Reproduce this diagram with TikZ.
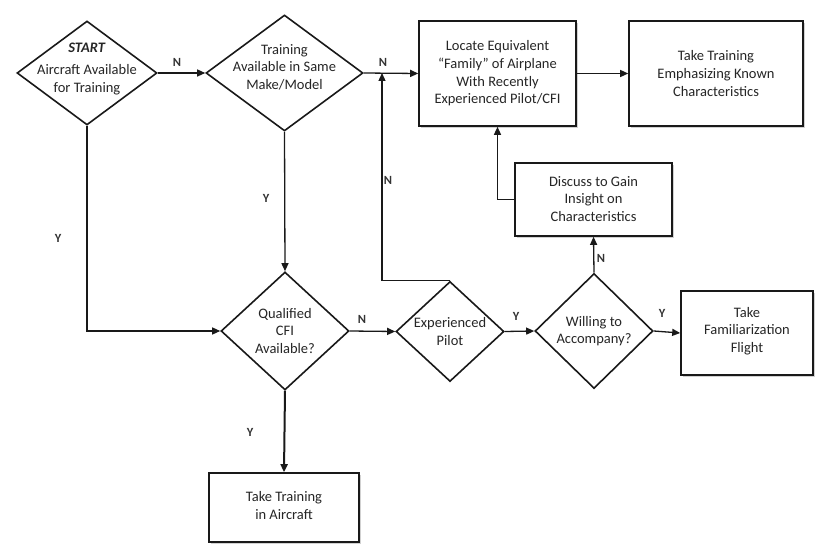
\documentclass[tikz,border=0pt]{standalone}
\usepackage{fontspec}
\setmainfont{Carlito}
\usetikzlibrary{shapes.geometric,arrows.meta,shadows}
\begin{document}
\begin{tikzpicture}[x=1bp,y=-1bp,
  every node/.style={font=\fontsize{14.5bp}{17.6bp}\selectfont, text=black!85},
  dia/.style={draw=black!90, line width=1.6bp, shape=diamond, inner sep=0pt, fill=white},
  boxx/.style={draw=black!90, line width=1.6bp, rectangle, inner sep=0pt, fill=white,
     drop shadow={shadow xshift=1.8bp, shadow yshift=-1.8bp, fill=black!30, opacity=0.6}},
  txt/.style={align=center, inner sep=0pt},
  arr/.style={draw=black!90, line width=1.3bp, -{Triangle[length=8bp,width=7bp]}},
  lbl/.style={inner sep=0pt, text=black!80, font=\fontsize{12.5bp}{15bp}\selectfont\bfseries}
]
\useasboundingbox (0,0) rectangle (832,551);

% decisions
\node[dia, minimum width=140bp, minimum height=104bp] (d1) at (87,73) {};
\node[txt] (d1t) at (87,69) {\textbf{\textit{START}}\\[4bp]Aircraft Available\\for Training};
\node[dia, minimum width=157bp, minimum height=116bp] (d2) at (284.5,73) {};
\node[txt] (d2t) at (284.5,67) {Training\\Available in Same\\Make/Model};
\node[dia, minimum width=128bp, minimum height=118bp] (qcfi) at (285,331) {};
\node[txt] (qcfit) at (285,331) {Qualified\\CFI\\Available?};
\node[dia, minimum width=108bp, minimum height=100bp] (exp) at (450,331.5) {};
\node[txt] (expt) at (450,331.5) {Experienced\\Pilot};
\node[dia, minimum width=118bp, minimum height=115bp] (will) at (594,331) {};
\node[txt] (willt) at (594,331) {Willing to\\Accompany?};

% boxes
\node[boxx, minimum width=157bp, minimum height=105bp] (locate) at (497.5,73.5) {};
\node[txt] (locatet) at (497.5,73.5) {Locate Equivalent\\``Family'' of Airplane\\With Recently\\Experienced Pilot/CFI};
\node[boxx, minimum width=174bp, minimum height=105bp] (emph) at (716,73.5) {};
\node[txt] (emplt) at (716,73.5) {Take Training\\Emphasizing Known\\Characteristics};
\node[boxx, minimum width=157bp, minimum height=73bp] (disc) at (593.5,199.5) {};
\node[txt] (disct) at (593.5,199) {Discuss to Gain\\Insight on\\Characteristics};
\node[boxx, minimum width=132bp, minimum height=84bp] (fam) at (747,333) {};
\node[txt] (famt) at (747,331) {Take\\Familiarization\\Flight};
\node[boxx, minimum width=150bp, minimum height=69bp] (tia) at (284,507.5) {};
\node[txt] (tiat) at (284,505.5) {Take Training\\in Aircraft};

\coordinate (jn) at (382,73);

% connectors
\draw[arr] (d1.east) -- (d2.west);
\draw[arr] (d2.east) -- (locate.west);
\draw[arr] (locate.east) -- (emph.west);
\draw[arr] (d1.south) |- (qcfi.west);
\draw[arr] (d2.south) -- (qcfi.north);
\draw[arr] (qcfi.east) -- (exp.west);
\draw[arr] (exp.north) -| (jn);
\draw[arr] (exp.east) -- (will.west);
\draw[arr] (will.north) -- (disc.south);
\draw[arr] (will.east) -- (fam.west);
\draw[arr] (disc.west) -| (locate.south);
\draw[arr, line width=2bp] (qcfi.south) -- (tia.north);

% labels
\node[lbl] (l1) at (177,62) {N};
\node[lbl] (l2) at (383,62) {N};
\node[lbl] (l3) at (388,180) {N};
\node[lbl] (l4) at (266,198) {Y};
\node[lbl] (l5) at (58,238) {Y};
\node[lbl] (l6) at (362,319) {N};
\node[lbl] (l7) at (516,316) {Y};
\node[lbl] (l8) at (601,258) {N};
\node[lbl] (l9) at (662,313) {Y};
\node[lbl] (l10) at (250,432) {Y};
\end{tikzpicture}
\end{document}
